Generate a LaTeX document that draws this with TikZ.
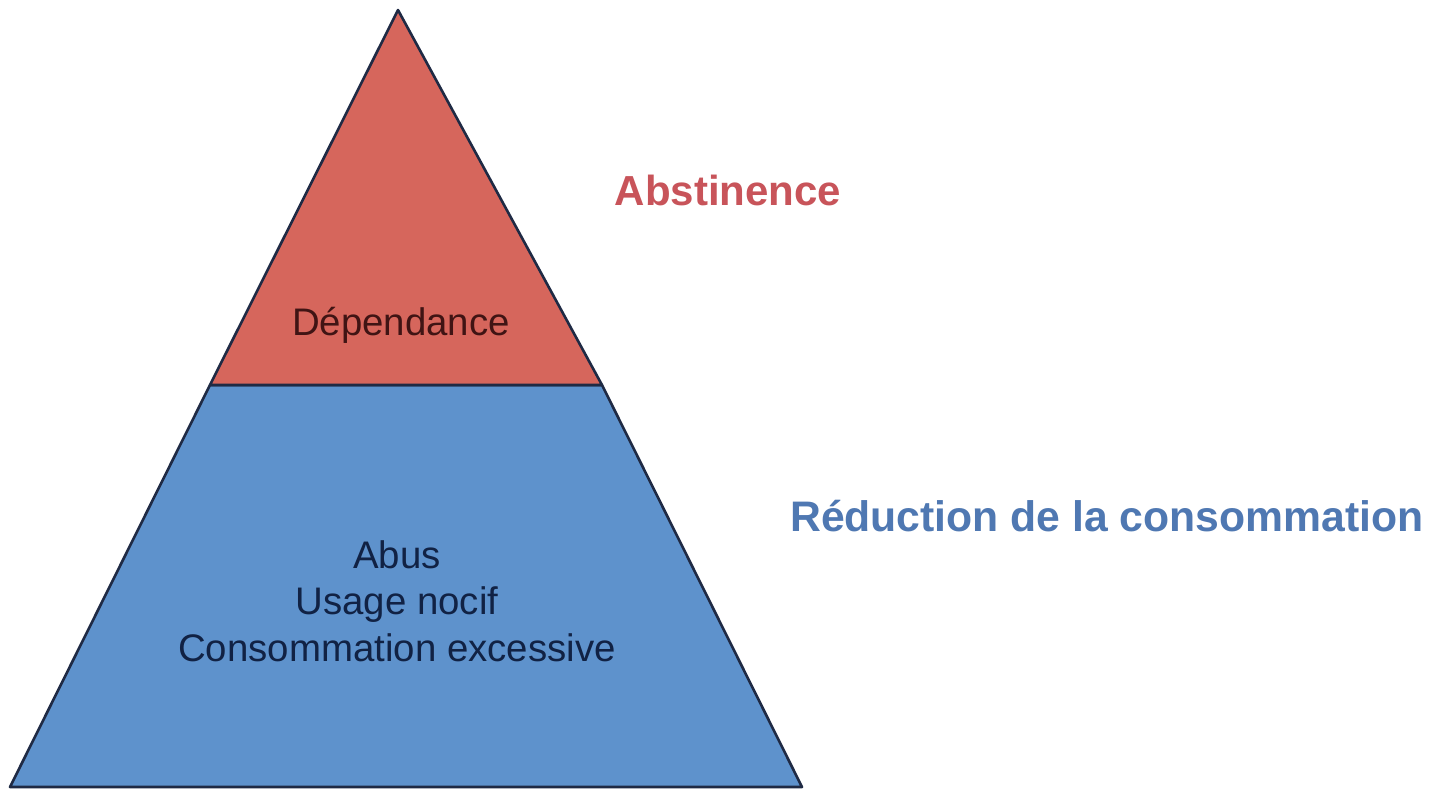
\documentclass[tikz,border=0pt]{standalone}
\usepackage{fontspec}
\setmainfont{Liberation Sans}
\definecolor{topred}{HTML}{D6665C}
\definecolor{lowblue}{HTML}{5E92CC}
\definecolor{edge}{HTML}{1F2A44}
\definecolor{navytext}{HTML}{112244}
\definecolor{maroontext}{HTML}{401414}
\definecolor{redlabel}{HTML}{C8545A}
\definecolor{bluelabel}{HTML}{4F78B2}
\begin{document}
\begin{tikzpicture}[x=1pt,y=-1pt,
  layer/.style={draw=edge,line width=2.6pt,line join=round},
  intext/.style={font=\fontsize{38.4}{46.5}\selectfont,align=center,inner sep=0pt},
  sidelabel/.style={font=\bfseries\fontsize{42}{50}\selectfont,inner sep=0pt}]
  \useasboundingbox (0,0) rectangle (1433,792);
  \fill[white] (0,0) rectangle (1433,792);
  % pyramid corners
  \coordinate (apex) at (398,10);
  \coordinate (ml) at (210,385);
  \coordinate (mr) at (602,385);
  \coordinate (bl) at (10,787);
  \coordinate (br) at (802,787);
  % two layers
  \filldraw[layer,fill=lowblue] (ml) -- (mr) -- (br) -- (bl) -- cycle;
  \filldraw[layer,fill=topred] (apex) -- (mr) -- (ml) -- cycle;
  % layer texts
  \node[intext,text=maroontext] (dep) at (401,325) {Dépendance};
  \node[intext,text=navytext] (low) at (397,601) {Abus\\Usage nocif\\Consommation excessive};
  % side labels
  \node[sidelabel,text=redlabel] (abst) at (728,190) {Abstinence};
  \node[sidelabel,text=bluelabel,anchor=west,font=\bfseries\fontsize{42.7}{50}\selectfont] (redu) at (790,516) {Réduction de la consommation};
\end{tikzpicture}
\end{document}
